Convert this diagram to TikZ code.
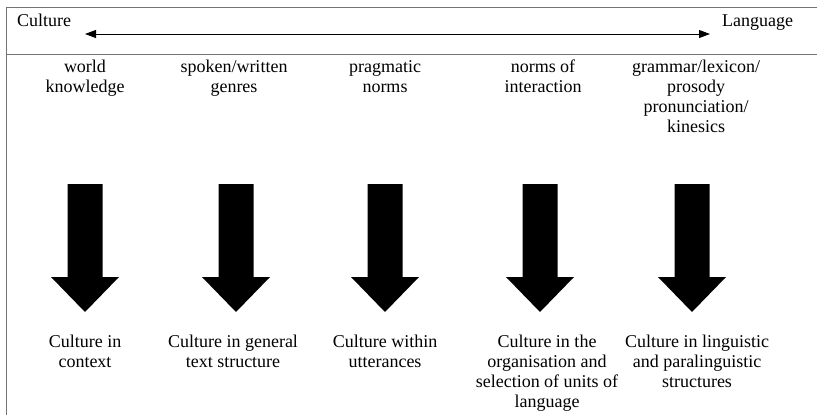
\documentclass[tikz,border=0pt]{standalone}
\usepackage{fontspec}
\setmainfont{Liberation Serif}
\usetikzlibrary{arrows.meta}
\begin{document}
\begin{tikzpicture}[x=1pt,y=-1pt,
  frame/.style={draw=black!55,line width=0.9pt},
  lbl/.style={font=\fontsize{18}{20}\selectfont,align=center,anchor=base,inner sep=0pt},
  hdr/.style={font=\fontsize{18}{20}\selectfont,anchor=base west,inner sep=0pt},
  blockarrow/.pic={\fill[black] (-17.5,184) -- (17.5,184) -- (17.5,277) -- (34,277) -- (0,312) -- (-34,277) -- (-17.5,277) -- cycle;}]
\useasboundingbox (0,0) rectangle (817,415);
% frame
\draw[frame] (6,415) -- (6,7) -- (817,7);
\draw[frame] (6,54) -- (817,54);
% header
\node[hdr] (cul) at (17,27) {Culture};
\node[hdr] (lan) at (722,27) {Language};
\coordinate (al) at (85,34);
\coordinate (ar) at (710,34);
\draw[line width=0.9pt,{Triangle[length=11pt,width=8pt]}-{Triangle[length=11pt,width=8pt]}] (al) -- (ar);
% top labels (anchor base = baseline of the last line)
\node[lbl] (t1) at (85,92) {world\\knowledge};
\node[lbl] (t2) at (234,92) {spoken/written\\genres};
\node[lbl] (t3) at (385,92) {pragmatic\\norms};
\node[lbl] (t4) at (543,92) {norms of\\interaction};
\node[lbl] (t5) at (696,132) {grammar/lexicon/\\prosody\\pronunciation/\\kinesics};
% block arrows
\pic at (85,0) {blockarrow};
\pic at (236,0) {blockarrow};
\pic at (385,0) {blockarrow};
\pic at (540,0) {blockarrow};
\pic at (692,0) {blockarrow};
% bottom labels
\node[lbl] (b1) at (85,367) {Culture in\\context};
\node[lbl] (b2) at (233,367) {Culture in general\\text structure};
\node[lbl] (b3) at (385,367) {Culture within\\utterances};
\node[lbl] (b4) at (547,407) {Culture in the\\organisation and\\selection of units of\\language};
\node[lbl] (b5) at (697,387) {Culture in linguistic\\and paralinguistic\\structures};
\end{tikzpicture}
\end{document}
